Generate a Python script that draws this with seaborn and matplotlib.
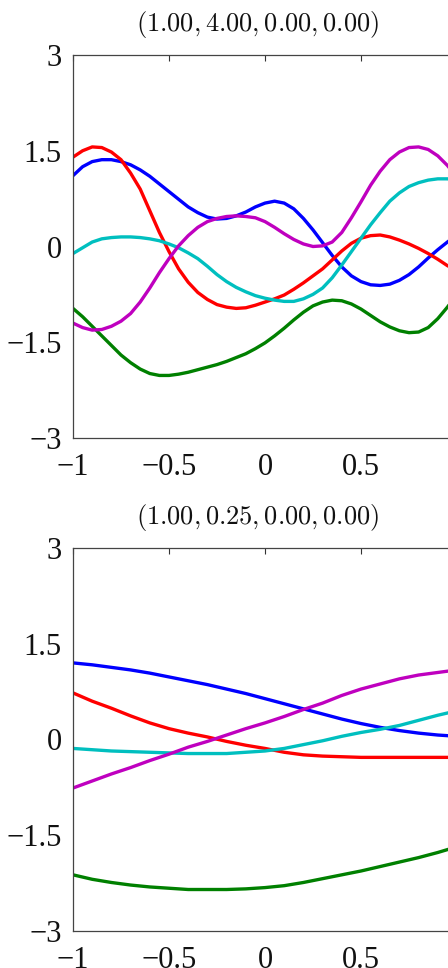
import numpy as np
import pandas as pd
import matplotlib
matplotlib.use("Agg")
import matplotlib.pyplot as plt
import seaborn as sns

# 两个子图的标题
titles = [r"$(1.00, 4.00, 0.00, 0.00)$", r"$(1.00, 0.25, 0.00, 0.00)$"]

# 上图: 采样点 (步长 0.05)
x_top = [-1.00, -0.95, -0.90, -0.85, -0.80, -0.75, -0.70, -0.65, -0.60, -0.55,
         -0.50, -0.45, -0.40, -0.35, -0.30, -0.25, -0.20, -0.15, -0.10, -0.05,
         0.00, 0.05, 0.10, 0.15, 0.20, 0.25, 0.30, 0.35, 0.40, 0.45,
         0.50, 0.55, 0.60, 0.65, 0.70, 0.75, 0.80, 0.85, 0.90, 0.95, 1.00]
blue_top = [1.11, 1.25, 1.33, 1.36, 1.36, 1.33, 1.28, 1.20, 1.10, 0.98,
            0.86, 0.74, 0.62, 0.53, 0.46, 0.43, 0.44, 0.48, 0.54, 0.62,
            0.68, 0.71, 0.68, 0.59, 0.44, 0.26, 0.06, -0.14, -0.32, -0.46,
            -0.55, -0.60, -0.61, -0.59, -0.53, -0.44, -0.32, -0.18, -0.05, 0.07, 0.18]
green_top = [-0.97, -1.10, -1.25, -1.40, -1.55, -1.70, -1.82, -1.92, -1.99, -2.02,
             -2.02, -2.00, -1.97, -1.93, -1.89, -1.85, -1.80, -1.74, -1.68, -1.60,
             -1.51, -1.40, -1.28, -1.15, -1.03, -0.93, -0.87, -0.84, -0.85, -0.90,
             -0.98, -1.08, -1.18, -1.26, -1.32, -1.35, -1.34, -1.27, -1.13, -0.95, -0.75]
red_top = [1.40, 1.50, 1.56, 1.55, 1.48, 1.36, 1.15, 0.90, 0.56, 0.22,
           -0.08, -0.35, -0.56, -0.72, -0.83, -0.91, -0.95, -0.97, -0.96, -0.92,
           -0.87, -0.82, -0.76, -0.67, -0.57, -0.46, -0.35, -0.21, -0.07, 0.05,
           0.13, 0.17, 0.18, 0.15, 0.10, 0.04, -0.03, -0.11, -0.20, -0.30, -0.38]
cyan_top = [-0.11, -0.02, 0.07, 0.12, 0.14, 0.15, 0.15, 0.14, 0.12, 0.09,
            0.04, -0.02, -0.10, -0.19, -0.31, -0.44, -0.55, -0.64, -0.71, -0.77,
            -0.81, -0.84, -0.86, -0.86, -0.82, -0.75, -0.65, -0.49, -0.29, -0.08,
            0.13, 0.34, 0.53, 0.71, 0.84, 0.94, 1.00, 1.04, 1.06, 1.06, 1.04]
magenta_top = [-1.20, -1.27, -1.31, -1.30, -1.25, -1.17, -1.05, -0.87, -0.65, -0.41,
               -0.19, 0.01, 0.17, 0.30, 0.39, 0.44, 0.47, 0.48, 0.47, 0.45,
               0.39, 0.30, 0.20, 0.11, 0.04, 0.00, 0.01, 0.07, 0.22, 0.45,
               0.70, 0.96, 1.18, 1.36, 1.48, 1.55, 1.56, 1.52, 1.42, 1.27, 1.08]

# 下图: 采样点 (步长 0.1)
x_bot = [-1.0, -0.9, -0.8, -0.7, -0.6, -0.5, -0.4, -0.3, -0.2, -0.1,
         0.0, 0.1, 0.2, 0.3, 0.4, 0.5, 0.6, 0.7, 0.8, 0.9, 1.0]
blue_bot = [1.20, 1.17, 1.13, 1.09, 1.04, 0.98, 0.92, 0.86, 0.79, 0.72,
            0.64, 0.56, 0.48, 0.40, 0.32, 0.25, 0.19, 0.14, 0.10, 0.07, 0.05]
green_bot = [-2.12, -2.19, -2.24, -2.28, -2.31, -2.33, -2.35, -2.35, -2.35, -2.34,
             -2.32, -2.29, -2.24, -2.18, -2.12, -2.06, -1.99, -1.92, -1.85, -1.77, -1.68]
red_bot = [0.73, 0.60, 0.49, 0.37, 0.26, 0.17, 0.10, 0.04, -0.03, -0.09,
           -0.14, -0.20, -0.24, -0.26, -0.27, -0.28, -0.28, -0.28, -0.28, -0.28, -0.28]
cyan_bot = [-0.14, -0.16, -0.18, -0.19, -0.20, -0.21, -0.22, -0.22, -0.22, -0.20,
            -0.18, -0.14, -0.08, -0.02, 0.05, 0.11, 0.16, 0.22, 0.30, 0.38, 0.45]
magenta_bot = [-0.76, -0.65, -0.54, -0.44, -0.33, -0.23, -0.12, -0.03, 0.07, 0.17,
               0.26, 0.36, 0.47, 0.57, 0.69, 0.79, 0.87, 0.95, 1.01, 1.05, 1.09]

# 刻度
xticks = [-1, -0.5, 0, 0.5, 1]
xticklabels = ["\u22121", "\u22120.5", "0", "0.5", "1"]
yticks = [-3, -1.5, 0, 1.5, 3]
yticklabels = ["\u22123", "\u22121.5", "0", "1.5", "3"]

# MATLAB 风格颜色 (b, g, r, c, m)
colors = ["#0000ff", "#008000", "#ff0000", "#00bfbf", "#bf00bf"]

sns.set_style("white")
plt.rcParams["font.family"] = ["Liberation Serif", "DejaVu Serif"]
plt.rcParams["mathtext.fontset"] = "cm"
plt.rcParams["axes.unicode_minus"] = True

fig = plt.figure(figsize=(4.48, 9.68), dpi=100)
W, H = 448.0, 968.0
# 坐标轴右边超出画面 (参考图被裁切)
ax_top = fig.add_axes([73 / W, (H - 438) / H, 384 / W, 383 / H])
ax_bot = fig.add_axes([73 / W, (H - 931) / H, 384 / W, 383 / H])

panels = [
    (ax_top, x_top, [blue_top, green_top, red_top, cyan_top, magenta_top]),
    (ax_bot, x_bot, [blue_bot, green_bot, red_bot, cyan_bot, magenta_bot]),
]

for i, (ax, xs, series) in enumerate(panels):
    for ys, c in zip(series, colors):
        sns.lineplot(x=xs, y=ys, color=c, linewidth=2.4, estimator=None,
                     sort=False, ax=ax, solid_joinstyle="round",
                     solid_capstyle="round")
    ax.set_xlim(-1, 1)
    ax.set_ylim(-3, 3)
    ax.set_xticks(xticks)
    ax.set_xticklabels(xticklabels)
    ax.set_yticks(yticks)
    ax.set_yticklabels(yticklabels)
    ax.tick_params(axis="both", direction="in", length=4, width=0.8,
                   color="#333333", labelsize=22, labelcolor="#111111",
                   top=True, right=True)
    ax.tick_params(axis="x", pad=11)
    ax.tick_params(axis="y", pad=8)
    for sp in ax.spines.values():
        sp.set_color("#444444")
        sp.set_linewidth(0.9)
    ax.set_xlabel("")
    ax.set_ylabel("")
    ax.set_title(titles[i], fontsize=19, pad=17, x=0.48, color="#111111")

fig.savefig("out.png", dpi=100)
